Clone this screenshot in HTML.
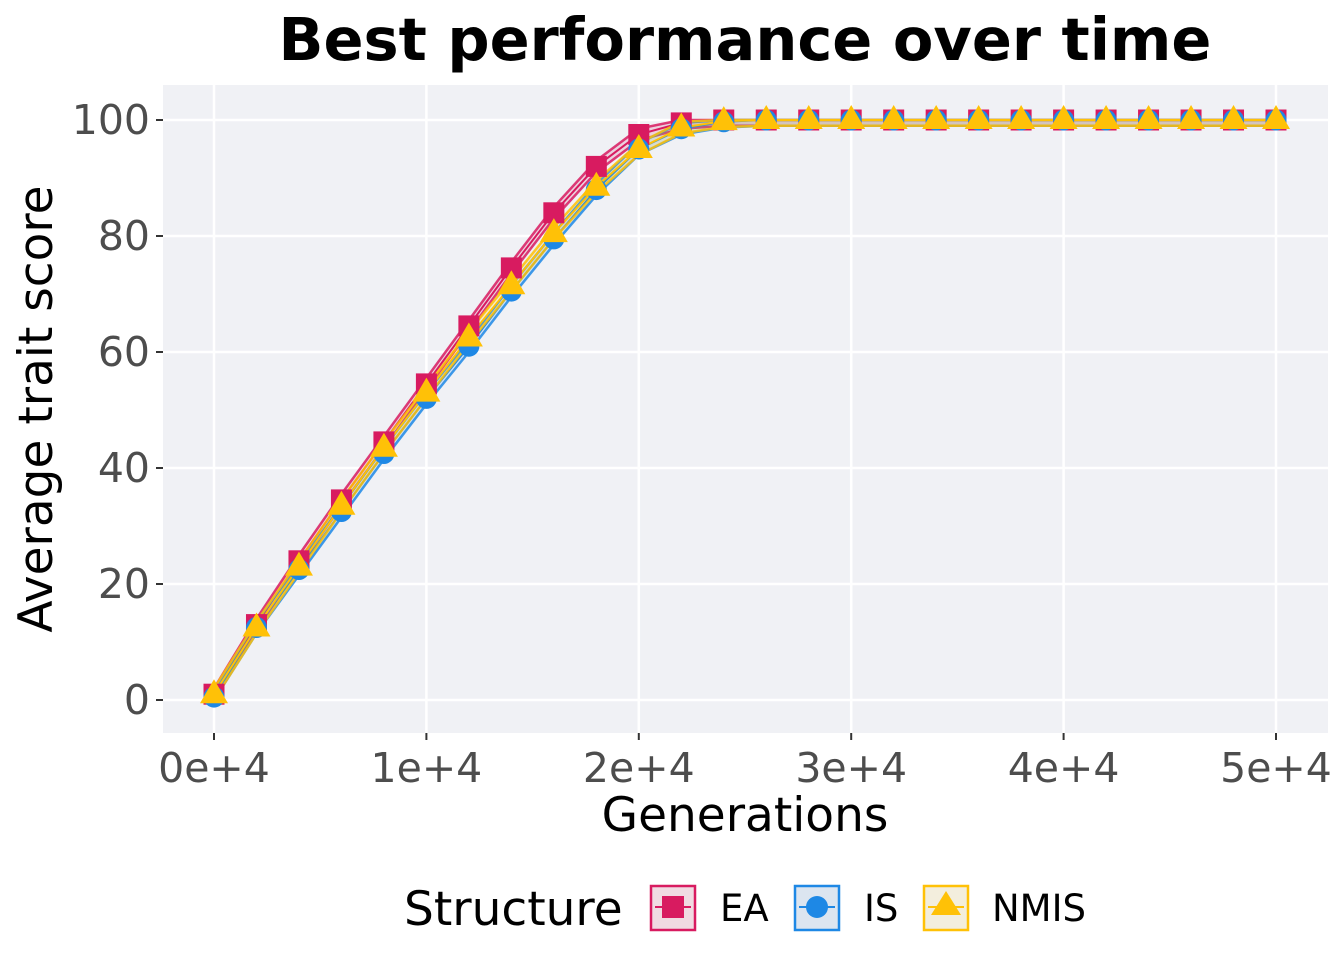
<!DOCTYPE html>
<html><head><meta charset="utf-8"><style>
body{margin:0;background:#fff;}
svg{display:block;font-family:"DejaVu Sans","Liberation Sans",sans-serif;}
</style></head><body>
<svg id="chart" width="1344" height="960">
<rect x="0" y="0" width="1344" height="960" fill="#fff"/>
<text x="745" y="60" text-anchor="middle" font-size="59" font-weight="bold">Best performance over time</text>
<rect x="163" y="85" width="1165" height="648" fill="#F0F1F5"/>
<g id="grid"></g>
<g id="series"></g>
<g id="axes"></g>
<text x="745" y="831" text-anchor="middle" font-size="47">Generations</text>
<text transform="translate(52,409) rotate(-90)" text-anchor="middle" font-size="47">Average trait score</text>
<g>
<text x="404" y="925" font-size="47">Structure</text>
<g>
<rect x="651" y="886" width="44" height="44" fill="#F0DBE2" stroke="#D81B60" stroke-width="2.5"/>
<line x1="655" y1="907" x2="691" y2="907" stroke="#D81B60" stroke-width="2"/>
<rect x="662" y="896" width="22" height="22" fill="#D81B60"/>
<text x="720" y="921" font-size="37">EA</text></g>
<g>
<rect x="795" y="886" width="44" height="44" fill="#DCE5F0" stroke="#1E88E5" stroke-width="2.5"/>
<line x1="799" y1="907" x2="835" y2="907" stroke="#1E88E5" stroke-width="2"/>
<circle cx="817" cy="907" r="11" fill="#1E88E5"/>
<text x="864" y="921" font-size="37">IS</text></g>
<g>
<rect x="924" y="886" width="44" height="44" fill="#F3EEDD" stroke="#FFC107" stroke-width="2.5"/>
<line x1="928" y1="907" x2="964" y2="907" stroke="#FFC107" stroke-width="2"/>
<polygon points="946,891 961,915 931,915" fill="#FFC107"/>
<text x="992" y="921" font-size="37">NMIS</text></g>
</g>
</svg>
<script>
const generations=[0,2000,4000,6000,8000,10000,12000,14000,16000,18000,20000,22000,24000,26000,28000,30000,32000,34000,36000,38000,40000,42000,44000,46000,48000,50000];
const eaValues=[1,13,24,34.5,44.5,54.5,64.5,74.5,84,92,97.5,99.5,100,100,100,100,100,100,100,100,100,100,100,100,100,100];
const isValues=[0.5,12.5,22.5,32.5,42.5,52,61,70.5,79.5,88,95,98.5,99.7,100,100,100,100,100,100,100,100,100,100,100,100,100];
const nmisValues=[1,12.5,23,33.5,43.5,53,62.5,71.5,80.5,88.5,95,98.7,99.8,100,100,100,100,100,100,100,100,100,100,100,100,100];
const xTicks=[0,10000,20000,30000,40000,50000];
const xTickLabels=["0e+4","1e+4","2e+4","3e+4","4e+4","5e+4"];
const yTicks=[0,20,40,60,80,100];
const NS="http://www.w3.org/2000/svg";
const X=v=>214+v*(1062/50000);
const Y=v=>700-v*5.8;
function mk(tag,attrs,parent){const e=document.createElementNS(NS,tag);for(const k in attrs)e.setAttribute(k,attrs[k]);parent.appendChild(e);return e;}
const grid=document.getElementById('grid'),axes=document.getElementById('axes'),series=document.getElementById('series');
xTicks.forEach((t,i)=>{const l=mk('line',{x1:X(t),x2:X(t),y1:85,y2:733,stroke:'#fff','stroke-width':2.5},grid);
mk('line',{x1:X(t),x2:X(t),y1:733,y2:740,stroke:'#333','stroke-width':2},axes);
const tx=mk('text',{x:X(t),y:782,'text-anchor':'middle','font-size':41,fill:'#4D4D4D'},axes);tx.textContent=xTickLabels[i];});
yTicks.forEach(t=>{const l=mk('line',{x1:163,x2:1328,y1:Y(t),y2:Y(t),stroke:'#fff','stroke-width':2.5},grid);
mk('line',{x1:156,x2:163,y1:Y(t),y2:Y(t),stroke:'#333','stroke-width':2},axes);
const tx=mk('text',{x:150,y:Y(t)+14,'text-anchor':'end','font-size':41,fill:'#4D4D4D'},axes);tx.textContent=t;});
const S=[{n:'ea',v:eaValues,c:'#D81B60',f:'rgba(216,27,96,0.15)',m:'sq'},{n:'is',v:isValues,c:'#1E88E5',f:'rgba(30,136,229,0.15)',m:'ci'},{n:'nmis',v:nmisValues,c:'#FFC107',f:'rgba(255,193,7,0.15)',m:'tr'}];
const clamp=v=>Math.min(100,v);
S.forEach(s=>{
const up=s.v.map((v,i)=>[X(generations[i]),Y(clamp(v+1))]);const lo=s.v.map((v,i)=>[X(generations[i]),Y(Math.max(0,v-1))]);
const rb=mk('path',{d:'M'+up.map(p=>p.join(',')).join('L')+'L'+lo.slice().reverse().map(p=>p.join(',')).join('L')+'Z',fill:s.f,stroke:'none'},series);

[up,lo].forEach(pp=>mk('polyline',{points:pp.map(p=>p.join(',')).join(' '),fill:'none',stroke:s.c,'stroke-width':2.5,'stroke-opacity':0.85},series));
const ln=mk('polyline',{points:s.v.map((v,i)=>X(generations[i])+','+Y(v)).join(' '),fill:'none',stroke:s.c,'stroke-width':2},series);
});
S.forEach(s=>{s.v.forEach((v,i)=>{const x=X(generations[i]),y=Y(v);let e;
if(s.m==='sq')e=mk('rect',{x:x-10.5,y:y-10.5,width:21,height:21,fill:s.c},series);
else if(s.m==='ci')e=mk('circle',{cx:x,cy:y,r:10.5,fill:s.c},series);
else e=mk('polygon',{points:`${x},${y-15} ${x+14},${y+9} ${x-14},${y+9}`,fill:s.c},series);
});});
</script>
</body></html>
